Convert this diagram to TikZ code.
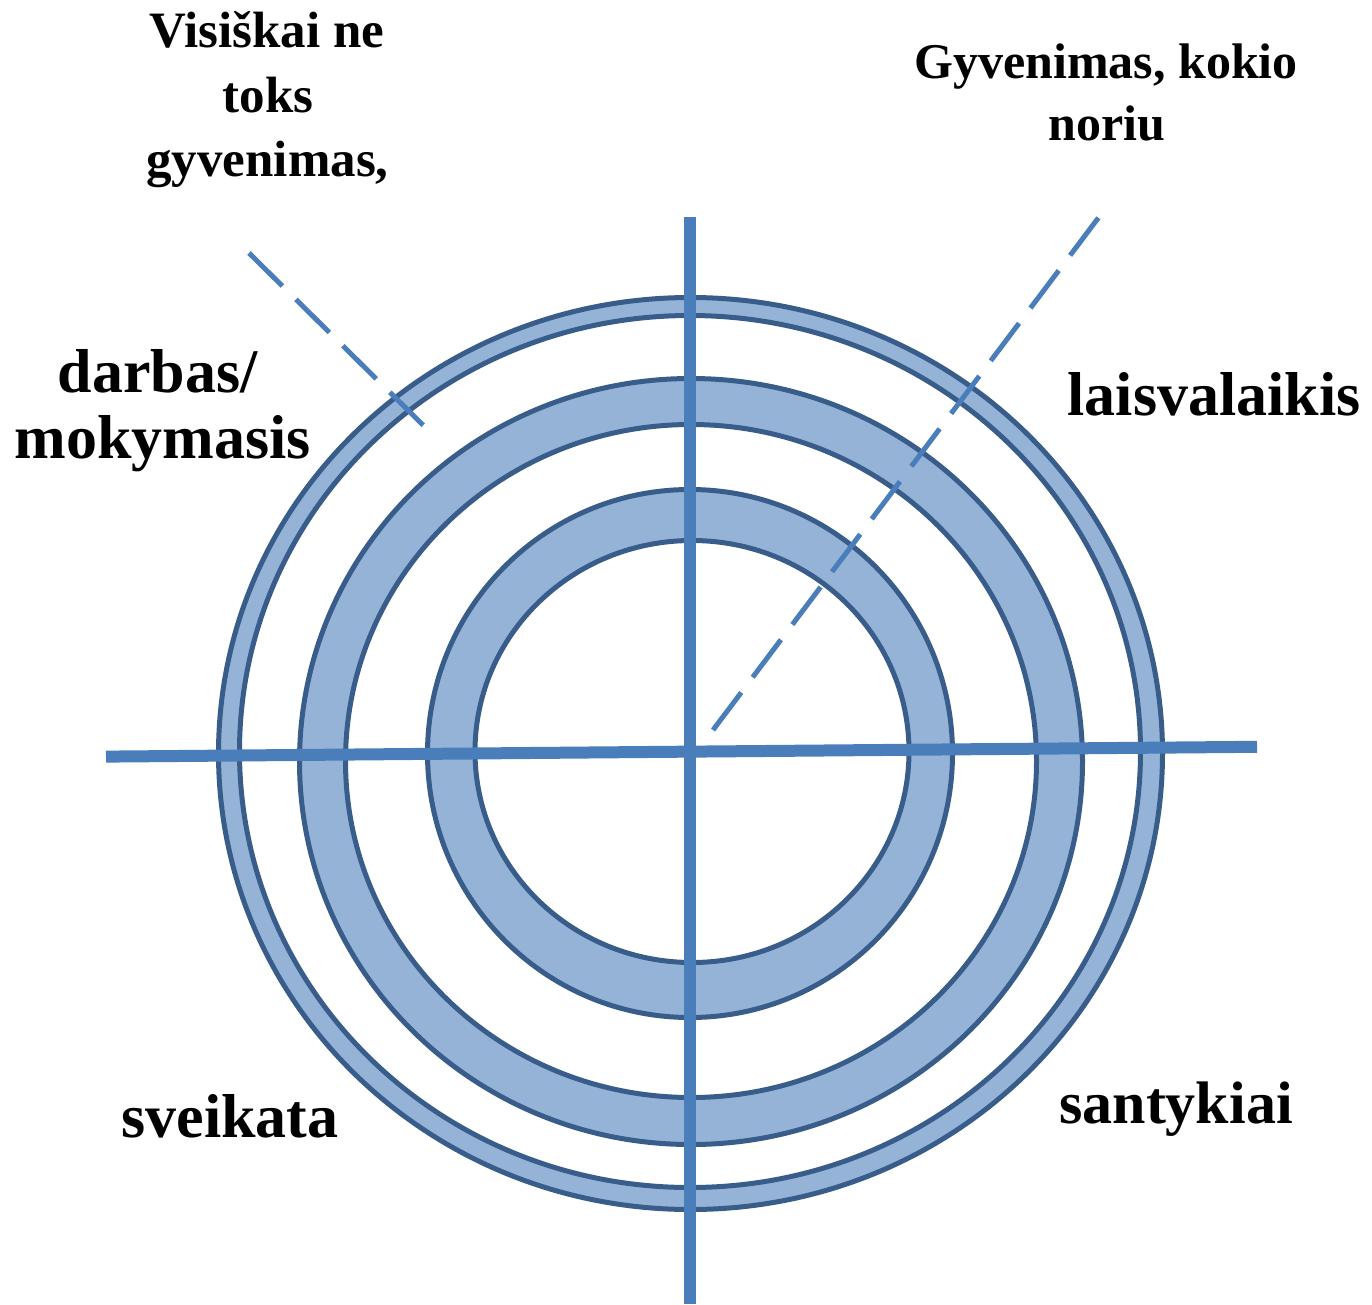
\documentclass[tikz,border=0pt]{standalone}
\usepackage{fontspec}
\setmainfont{Liberation Serif}
\definecolor{axisblue}{HTML}{4A7EBB}
\definecolor{ringline}{HTML}{385D8A}
\definecolor{ringfill}{HTML}{95B3D7}
\begin{document}
\begin{tikzpicture}[x=1pt,y=-1pt,
  ringedge/.style={draw=ringline,line width=5pt},
  ringband/.style={fill=ringfill,even odd rule},
  axisline/.style={draw=axisblue,line width=12pt},
  guideline/.style={draw=axisblue,line width=5pt,dash pattern=on 47pt off 19pt},
  biglabel/.style={font=\bfseries\fontsize{62}{70}\selectfont,anchor=base,inner sep=0pt},
  toplabel/.style={font=\bfseries\fontsize{51}{60}\selectfont,anchor=base,inner sep=0pt}]
\useasboundingbox (0,0) rectangle (1372,1304);
% outer ring
\path[ringband] (690.5,753.5) ellipse [x radius=472,y radius=456]
                (690,751.5) ellipse [x radius=450.5,y radius=436];
\draw[ringedge] (690.5,753.5) ellipse [x radius=472,y radius=456];
\draw[ringedge] (690,751.5) ellipse [x radius=450.5,y radius=436];
% middle ring
\path[ringband] (691,761.5) ellipse [x radius=391.5,y radius=383]
                (691,761) ellipse [x radius=345.5,y radius=336.5];
\draw[ringedge] (691,761.5) ellipse [x radius=391.5,y radius=383];
\draw[ringedge] (691,761) ellipse [x radius=345.5,y radius=336.5];
% inner ring
\path[ringband] (690,753.5) ellipse [x radius=262.5,y radius=264]
                (692,751.5) ellipse [x radius=217,y radius=211];
\draw[ringedge] (690,753.5) ellipse [x radius=262.5,y radius=264];
\draw[ringedge] (692,751.5) ellipse [x radius=217,y radius=211];
% axes
\coordinate (vtop) at (690,217);
\coordinate (vbot) at (690,1304);
\coordinate (hleft) at (106,756.6);
\coordinate (hright) at (1257,746.8);
\draw[axisline] (vtop) -- (vbot);
\draw[axisline] (hleft) -- (hright);
% dashed guides
\coordinate (ga) at (249,253);
\coordinate (gb) at (425,427);
\coordinate (gc) at (713,730);
\coordinate (gd) at (1102,213);
\draw[guideline] (ga) -- (gb);
\draw[guideline] (gc) -- (gd);
% labels
\node[toplabel] (v1) at (267,47) {Visiškai ne};
\node[toplabel] (v2) at (268,112) {toks};
\node[toplabel] (v3) at (267.5,176) {gyvenimas,};
\node[toplabel,font=\bfseries\fontsize{50}{60}\selectfont] (g1) at (1106,78) {Gyvenimas, kokio};
\node[toplabel,font=\bfseries\fontsize{50}{60}\selectfont] (g2) at (1107,140) {noriu};
\node[biglabel] (d1) at (157.5,392) {darbas/};
\node[biglabel] (d2) at (163,458) {mokymasis};
\node[biglabel] (l1) at (1214,415) {laisvalaikis};
\node[biglabel] (s1) at (230,1137) {sveikata};
\node[biglabel,font=\bfseries\fontsize{60}{70}\selectfont] (s2) at (1176,1123) {santykiai};
\end{tikzpicture}
\end{document}
